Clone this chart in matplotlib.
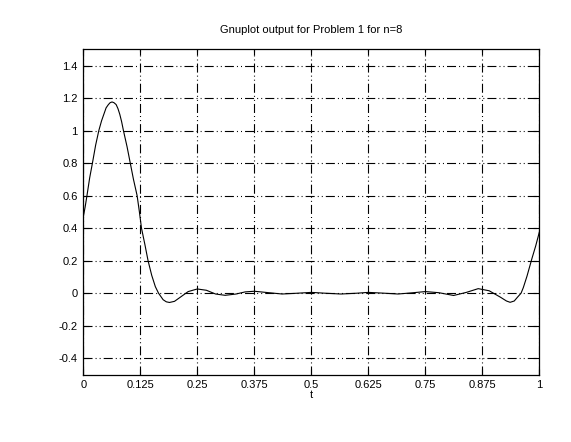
import matplotlib

matplotlib.use("Agg")
import matplotlib.pyplot as plt
from matplotlib.ticker import FixedLocator

# curve samples (t, y)
t_vals = [
    0.000, 0.004, 0.008, 0.014, 0.020, 0.027, 0.034, 0.040, 0.045, 0.050,
    0.055, 0.059, 0.063, 0.067, 0.072, 0.076, 0.080, 0.084, 0.088, 0.096,
    0.103, 0.110, 0.118, 0.123, 0.1276, 0.135, 0.142, 0.150, 0.158, 0.165,
    0.175, 0.182, 0.189, 0.200, 0.215, 0.230, 0.250, 0.270, 0.290, 0.311,
    0.335, 0.355, 0.375, 0.400, 0.436, 0.470, 0.500, 0.530, 0.565, 0.600,
    0.625, 0.660, 0.690, 0.720, 0.750, 0.780, 0.812, 0.840, 0.866, 0.890,
    0.915, 0.928, 0.936, 0.945, 0.952, 0.960, 0.965, 0.973, 0.984, 0.992,
    1.000,
]
y_vals = [
    0.47, 0.53, 0.60, 0.71, 0.80, 0.91, 1.00, 1.06, 1.10, 1.14,
    1.16, 1.172, 1.176, 1.172, 1.16, 1.135, 1.10, 1.055, 1.00, 0.90,
    0.80, 0.70, 0.60, 0.50, 0.40, 0.30, 0.20, 0.11, 0.04, 0.00,
    -0.04, -0.053, -0.057, -0.05, -0.02, 0.01, 0.026, 0.018, -0.005, -0.013,
    -0.005, 0.008, 0.012, 0.005, -0.005, 0.000, 0.005, 0.000, -0.005, 0.000,
    0.005, 0.000, -0.005, 0.002, 0.010, 0.003, -0.014, 0.005, 0.028, 0.015,
    -0.025, -0.048, -0.056, -0.048, -0.025, 0.000, 0.035, 0.105, 0.215, 0.29,
    0.375,
]

x_ticks = [0, 0.125, 0.25, 0.375, 0.5, 0.625, 0.75, 0.875, 1]
x_tick_labels = ["0", "0.125", "0.25", "0.375", "0.5", "0.625", "0.75", "0.875", "1"]
y_ticks = [-0.4, -0.2, 0, 0.2, 0.4, 0.6, 0.8, 1, 1.2, 1.4]
y_tick_labels = ["-0.4", "-0.2", "0", "0.2", "0.4", "0.6", "0.8", "1", "1.2", "1.4"]

plt.rcParams["font.family"] = ["Liberation Sans", "DejaVu Sans"]
plt.rcParams["font.size"] = 8
plt.rcParams["lines.scale_dashes"] = False

GRID_DASH = (0, (6.5, 2.2, 0.72, 2.2, 0.72, 2.2))

fig = plt.figure(figsize=(5.71, 4.42), dpi=100)
ax = fig.add_axes([0.1459, 0.1527, 0.7986, 0.7358])

ax.plot(t_vals, y_vals, color="black", linewidth=0.8, zorder=3)

ax.set_xlim(0, 1)
ax.set_ylim(-0.5, 1.5)
ax.xaxis.set_major_locator(FixedLocator(x_ticks))
ax.yaxis.set_major_locator(FixedLocator(y_ticks))
ax.set_xticklabels(x_tick_labels)
ax.set_yticklabels(y_tick_labels)
ax.tick_params(direction="in", length=4, width=0.8, pad=4, colors="black",
               top=True, right=True)
ax.grid(True, color="black", linewidth=0.8, linestyle=GRID_DASH)
for s in ax.spines.values():
    s.set_linewidth(0.9)
    s.set_color("black")

ax.set_title("Gnuplot output for Problem 1 for n=8", fontsize=8, pad=12)
ax.set_xlabel("t", fontsize=8, labelpad=0)

fig.savefig("out.png", dpi=100)
